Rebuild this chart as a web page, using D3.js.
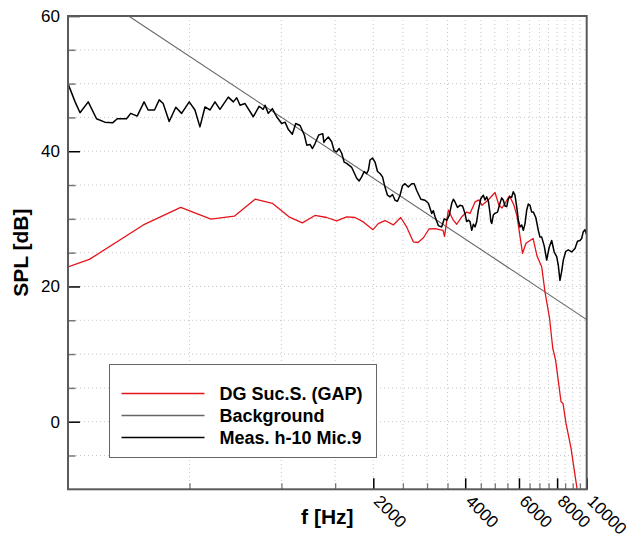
<!DOCTYPE html>
<html>
<head>
<meta charset="utf-8">
<script src="https://cdn.jsdelivr.net/npm/d3@7"></script>
<style>
    body { margin: 0; background: #fff; }
    svg { display: block; font-family: "Liberation Sans", Arial, sans-serif; }
</style>
</head>
<body>
<svg id="chart"></svg>
<script>
// measured spectrum, mic 9
const measFreq = [200, 211, 219, 233, 248, 264, 280, 290, 311, 321, 337, 355, 366, 384, 398, 410, 429, 451, 471, 499,
    521, 541, 562, 584, 606, 629, 670, 696, 714, 732, 760, 809, 845, 872, 884, 906, 934, 965, 1002, 1028, 1054, 1086, 1114, 1151, 1189, 1211,
    1241, 1264, 1288, 1325, 1366, 1378, 1390, 1425, 1461, 1488, 1517, 1546, 1576, 1605, 1636, 1700, 1765, 1798, 1832, 1867,
    1903, 1927, 1951, 1988, 2026, 2065, 2104, 2144, 2184, 2226, 2268, 2312, 2356, 2400, 2447, 2493, 2540, 2605, 2672, 2722,
    2775, 2863, 2954, 3030, 3108, 3146, 3186, 3266, 3350, 3414, 3480, 3546, 3614, 3658, 3704, 3774, 3846, 3920, 3994, 4044,
    4096, 4148, 4202, 4254, 4308, 4362, 4416, 4500, 4586, 4644, 4704, 4764, 4824, 4855, 4886, 4946, 5008, 5104, 5200, 5266,
    5332, 5400, 5470, 5540, 5608, 5678, 5748, 5822, 5898, 5972, 6048, 6124, 6200, 6280, 6360, 6440, 6522, 6604, 6686, 6812,
    6942, 7030, 7122, 7258, 7396, 7536, 7680, 7826, 7974, 8074, 8174, 8278, 8382, 8540, 8704, 8926, 9156, 9330, 9506, 9626,
    9746, 9872, 10000]
const measSpl = [50.0, 47.3, 45.7, 47.3, 44.8, 44.3, 44.2, 44.8, 44.8, 45.6, 45.2, 47.3, 46.1, 46.1, 47.6, 47.05, 44.4, 46.5, 45.6, 47.3,
    46.1, 43.6, 46.55, 46.1, 47.3, 46.2, 48.0, 47.3, 47.9, 46.8, 47.05, 45.1, 46.65, 46.2, 46.8, 45.6, 46.3, 45.1, 44.1, 44.3, 43.2, 42.5, 44.1, 43.8, 42.4, 40.9,
    41.0, 40.4, 41.1, 42.4, 42.6, 41.3, 41.6, 42.1, 41.4, 40.1, 39.9, 40.4, 39.7, 38.4, 38.2, 37.6, 36.0, 35.6, 36.2, 37.0,
    36.7, 37.2, 38.7, 39.0, 38.4, 37.0, 36.7, 36.2, 34.7, 33.5, 33.25, 33.6, 32.75, 32.6, 33.5, 34.9, 35.2, 34.7, 35.2, 35.2,
    34.2, 32.9, 32.75, 32.3, 30.8, 31.2, 30.3, 29.0, 28.8, 30.0, 29.8, 30.5, 32.3, 32.9, 32.5, 31.7, 32.0, 31.9, 30.8, 29.6,
    29.8, 29.6, 28.3, 29.2, 28.8, 29.6, 31.3, 33.0, 33.5, 32.8, 33.25, 32.6, 30.8, 29.6, 29.3, 30.6, 30.8, 31.0, 32.3, 33.1,
    32.75, 31.9, 31.8, 33.0, 33.25, 33.2, 34.0, 33.5, 31.8, 29.8, 28.8, 29.1, 28.3, 29.3, 31.3, 32.2, 32.0, 31.0, 31.0, 30.2,
    28.3, 27.3, 27.3, 26.0, 23.9, 25.8, 26.8, 25.1, 24.4, 23.1, 20.9, 22.2, 23.9, 25.2, 25.4, 25.1, 25.6, 26.7, 26.8, 27.1,
    28.1, 28.4, 27.6]

// DG Suc.S. (GAP) prediction
const dgFreq = [200, 235, 353, 468, 588, 701, 820, 934, 1059, 1171, 1288, 1408, 1517, 1636, 1743, 1855, 1995, 2076, 2184, 2326,
    2458, 2572, 2704, 2802, 2920, 3044, 3186, 3384, 3422, 3522, 3656, 3752, 3896, 4046, 4148, 4308, 4438, 4540, 4750, 5008,
    5162, 5280, 5400, 5586, 5780, 5912, 6164, 6326, 6672, 6876, 7122, 7302, 7556, 7740, 7908, 8240, 8364, 8556, 8884, 9226, 9366]
const dgSpl = [22.9, 24.0, 29.1, 31.7, 29.95, 30.4, 32.9, 32.3, 30.3, 29.4, 30.5, 30.2, 29.7, 30.3, 30.2, 29.55, 28.4, 29.3, 29.75, 29.1,
    30.2, 28.8, 26.6, 26.5, 27.2, 28.5, 28.55, 28.3, 27.4, 31.3, 29.8, 29.2, 30.3, 31.0, 30.8, 32.5, 32.8, 32.0, 32.75, 33.9,
    32.0, 31.6, 32.3, 33.4, 32.0, 30.4, 24.9, 26.4, 27.1, 24.5, 22.9, 19.15, 15.3, 10.9, 9.1, 2.95, 2.7, -0.25, -3.9, -8.9, -10.85]

// background level
const bgFreq = [316, 10000]
const bgSpl = [60, 15.1]

const yMajorTicks = [0, 20, 40, 60]
const xLabelTicks = [2000, 4000, 6000, 8000, 10000]
const legendLabels = ["DG Suc.S. (GAP)", "Background", "Meas. h-10 Mic.9"]

class SpectrumChart {

    constructor(_config) {
        this.config = {
            parentElement: _config.parentElement,
            containerWidth: _config.containerWidth || 626,
            containerHeight: _config.containerHeight || 537,
            margin: { top: 16, right: 39.3, bottom: 47.7, left: 68 }
        }
        this.initVis()
    }

    initVis() {
        let vis = this

        vis.width = vis.config.containerWidth - vis.config.margin.left - vis.config.margin.right
        vis.height = vis.config.containerHeight - vis.config.margin.top - vis.config.margin.bottom

        vis.svg = d3.select(vis.config.parentElement)
            .attr('width', vis.config.containerWidth)
            .attr('height', vis.config.containerHeight)

        vis.chart = vis.svg.append('g')
            .attr('transform', `translate(${vis.config.margin.left}, ${vis.config.margin.top})`)

        vis.xScale = d3.scaleLog()
            .domain([200, 10000])
            .range([0, vis.width])

        vis.yScale = d3.scaleLinear()
            .domain([-10, 60])
            .range([vis.height, 0])

        vis.svg.append('defs').append('clipPath')
            .attr('id', 'plot-clip')
            .append('rect')
            .attr('width', vis.width)
            .attr('height', vis.height)

        vis.series = [
            { label: legendLabels[0], color: '#e5141b', width: 1.3, values: d3.zip(dgFreq, dgSpl) },
            { label: legendLabels[1], color: '#666', width: 1.1, values: d3.zip(bgFreq, bgSpl) },
            { label: legendLabels[2], color: '#000', width: 1.5, values: d3.zip(measFreq, measSpl) }
        ]

        vis.renderVis()
    }

    renderVis() {
        let vis = this

        // dotted grid
        const grid = vis.chart.append('g').attr('class', 'grid')
        grid.selectAll('.hgrid')
            .data(d3.range(-5, 60, 5))
            .join('line')
                .attr('x1', 0)
                .attr('x2', vis.width)
                .attr('y1', d => vis.yScale(d))
                .attr('y2', d => vis.yScale(d))
        grid.selectAll('.vgrid')
            .data(d3.range(500, 10000, 500))
            .join('line')
                .attr('x1', d => vis.xScale(d))
                .attr('x2', d => vis.xScale(d))
                .attr('y1', 0)
                .attr('y2', vis.height)
        grid.selectAll('line')
            .attr('stroke', '#c8c8c8')
            .attr('stroke-width', 1)
            .attr('stroke-dasharray', '1,3')

        // curves
        const line = d3.line()
            .x(d => vis.xScale(d[0]))
            .y(d => vis.yScale(d[1]))

        vis.chart.append('g')
            .attr('clip-path', 'url(#plot-clip)')
            .selectAll('path')
            .data([vis.series[1], vis.series[0], vis.series[2]])
            .join('path')
                .attr('fill', 'none')
                .attr('stroke', d => d.color)
                .attr('stroke-width', d => d.width)
                .attr('stroke-linejoin', 'round')
                .attr('d', d => line(d.values))

        // y axis: minor + major ticks pointing inward
        const yMinor = d3.range(-5, 60, 5).filter(v => !yMajorTicks.includes(v))
        vis.chart.append('g')
            .call(d3.axisLeft(vis.yScale).tickValues(yMinor).tickSize(-7.5).tickFormat(''))
            .call(g => g.select('.domain').remove())
            .call(g => g.selectAll('line').attr('stroke', '#777').attr('stroke-width', 1.5))

        vis.chart.append('g')
            .call(d3.axisLeft(vis.yScale).tickValues(yMajorTicks).tickSize(-12).tickPadding(8))
            .call(g => g.select('.domain').remove())
            .call(g => g.selectAll('line').attr('stroke', '#000').attr('stroke-width', 1.5))
            .call(g => g.selectAll('text').attr('font-size', 17).attr('fill', '#000')
                .attr('font-family', '"Liberation Sans", Arial, sans-serif'))

        // x axis ticks every 500 Hz
        const xMinor = d3.range(500, 10000, 500).filter(v => !xLabelTicks.includes(v))
        vis.chart.append('g')
            .attr('transform', `translate(0, ${vis.height})`)
            .call(d3.axisBottom(vis.xScale).tickValues(xMinor).tickSize(-6).tickFormat(''))
            .call(g => g.select('.domain').remove())
            .call(g => g.selectAll('line').attr('stroke', '#777').attr('stroke-width', 1.3))

        vis.chart.append('g')
            .attr('transform', `translate(0, ${vis.height})`)
            .call(d3.axisBottom(vis.xScale).tickValues(xLabelTicks).tickSize(-11).tickFormat(d3.format('d')))
            .call(g => g.select('.domain').remove())
            .call(g => g.selectAll('line').attr('stroke', '#000').attr('stroke-width', 1.5))
            .call(g => g.selectAll('text')
                .attr('font-size', 17)
                .attr('fill', '#000')
                .attr('font-family', '"Liberation Sans", Arial, sans-serif')
                .attr('text-anchor', 'start')
                .attr('x', 0)
                .attr('y', 0)
                .attr('dy', 0)
                .attr('transform', 'translate(-1, 13) rotate(45)'))

        // frame
        vis.chart.append('rect')
            .attr('width', vis.width)
            .attr('height', vis.height)
            .attr('fill', 'none')
            .attr('stroke', '#5a5a5a')
            .attr('stroke-width', 2)

        // axis titles
        vis.svg.append('text')
            .attr('transform', `translate(28, ${vis.config.margin.top + vis.height / 2}) rotate(-90)`)
            .attr('text-anchor', 'middle')
            .attr('font-size', 21)
            .attr('font-weight', 'bold')
            .text('SPL [dB]')

        vis.svg.append('text')
            .attr('x', vis.config.margin.left + vis.width / 2)
            .attr('y', 524)
            .attr('text-anchor', 'middle')
            .attr('font-size', 21)
            .attr('font-weight', 'bold')
            .text('f [Hz]')

        // legend
        const legend = vis.svg.append('g')
            .attr('transform', 'translate(109.5, 364.5)')
        legend.append('rect')
            .attr('width', 267)
            .attr('height', 93)
            .attr('fill', '#fff')
            .attr('stroke', '#666')
            .attr('stroke-width', 1)

        const items = legend.selectAll('.item')
            .data(vis.series)
            .join('g')
                .attr('class', 'item')
                .attr('transform', (d, i) => `translate(0, ${29 + i * 22})`)
        items.append('line')
            .attr('x1', 12)
            .attr('x2', 95)
            .attr('stroke', d => d.color)
            .attr('stroke-width', 1.3)
        items.append('text')
            .attr('x', 110)
            .attr('dy', '0.35em')
            .attr('font-size', 18)
            .attr('font-weight', 'bold')
            .text(d => d.label)
    }
}

new SpectrumChart({ parentElement: '#chart' })
</script>
</body>
</html>
